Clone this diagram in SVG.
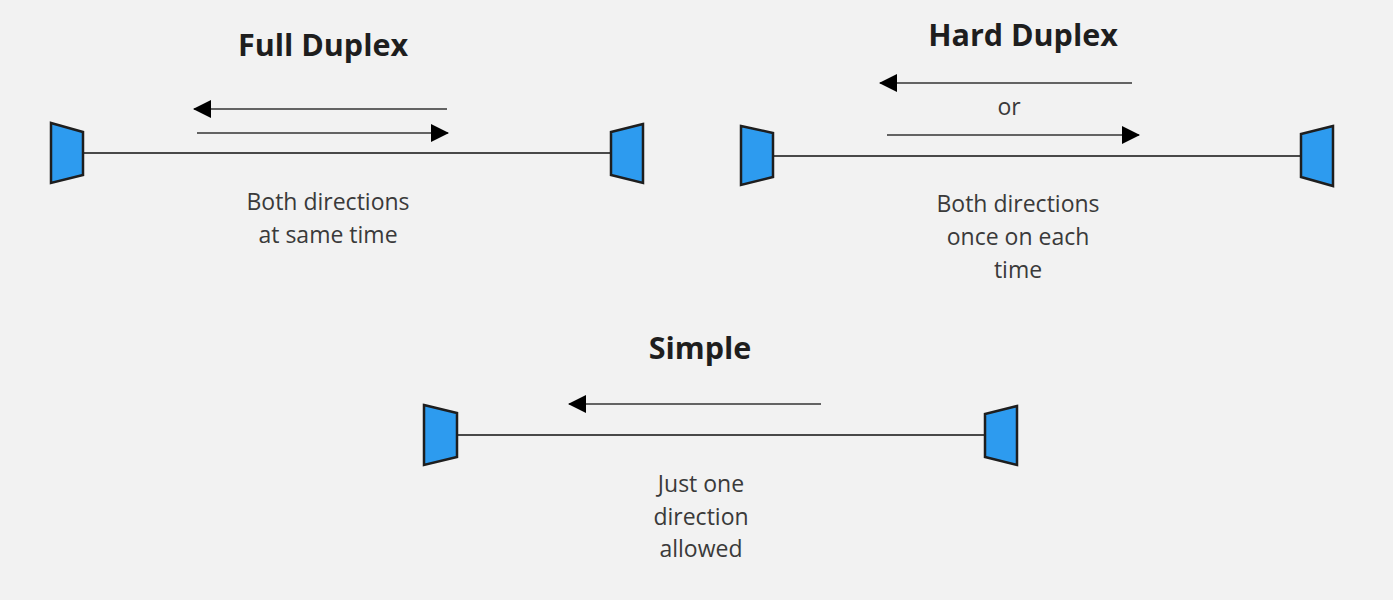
<svg xmlns="http://www.w3.org/2000/svg" width="1393" height="600" viewBox="0 0 1393 600">
<defs>
<marker id="ah" markerWidth="18" markerHeight="18" viewBox="0 0 18 18" refX="17" refY="9" orient="auto" markerUnits="userSpaceOnUse">
<path d="M0,0 L18,9 L0,18 Z" fill="#000"/>
</marker>
<style>
.dev{fill:#2d9bef;stroke:#1e1e1e;stroke-width:2.5;stroke-linejoin:miter}
.link{stroke:#111;stroke-width:1.6;fill:none}
.arr{stroke:#333;stroke-width:1.6;fill:none;marker-end:url(#ah)}
.title{font-family:"Open Sans","Noto Sans",sans-serif;font-weight:bold;font-size:30.5px;fill:#1e1e1e;text-anchor:middle}
.lbl{font-family:"Open Sans","Noto Sans",sans-serif;font-size:23px;fill:#3a3a3a;text-anchor:middle}
</style>
</defs>
<rect width="1393" height="600" fill="#f2f2f2"/>

<g id="connectors">
<line class="link" x1="83" y1="153" x2="611" y2="153"/>
<line class="arr" x1="447" y1="109" x2="194" y2="109"/>
<line class="arr" x1="197" y1="133" x2="448" y2="133"/>
<line class="link" x1="774" y1="156" x2="1301" y2="156"/>
<line class="arr" x1="1132" y1="83" x2="880" y2="83"/>
<line class="arr" x1="887" y1="135" x2="1139" y2="135"/>
<line class="link" x1="457" y1="435" x2="985" y2="435"/>
<line class="arr" x1="821" y1="404" x2="569" y2="404"/>
</g>

<g id="full-duplex">
<text class="title" x="323" y="56">Full Duplex</text>
<g id="fd-left"><polygon class="dev" points="51,123 83,132 83,175 51,183"/></g>
<g id="fd-right"><polygon class="dev" points="643,124 611,132 611,175 643,183"/></g>
<text class="lbl" x="328" y="210">Both directions</text>
<text class="lbl" x="328" y="243">at same time</text>
</g>

<g id="hard-duplex">
<text class="title" x="1023" y="46">Hard Duplex</text>
<g id="hd-left"><polygon class="dev" points="741,126 773,133 773,177 741,185"/></g>
<g id="hd-right"><polygon class="dev" points="1333,126 1301,134 1301,177 1333,186"/></g>
<text class="lbl" x="1009" y="115">or</text>
<text class="lbl" x="1018" y="212">Both directions</text>
<text class="lbl" x="1018" y="245">once on each</text>
<text class="lbl" x="1018" y="278">time</text>
</g>

<g id="simple">
<text class="title" x="700" y="359">Simple</text>
<g id="s-left"><polygon class="dev" points="424,405 457,413 457,457 424,465"/></g>
<g id="s-right"><polygon class="dev" points="1017,406 985,414 985,457 1017,465"/></g>
<text class="lbl" x="701" y="492">Just one</text>
<text class="lbl" x="701" y="525">direction</text>
<text class="lbl" x="701" y="557">allowed</text>
</g>
</svg>
